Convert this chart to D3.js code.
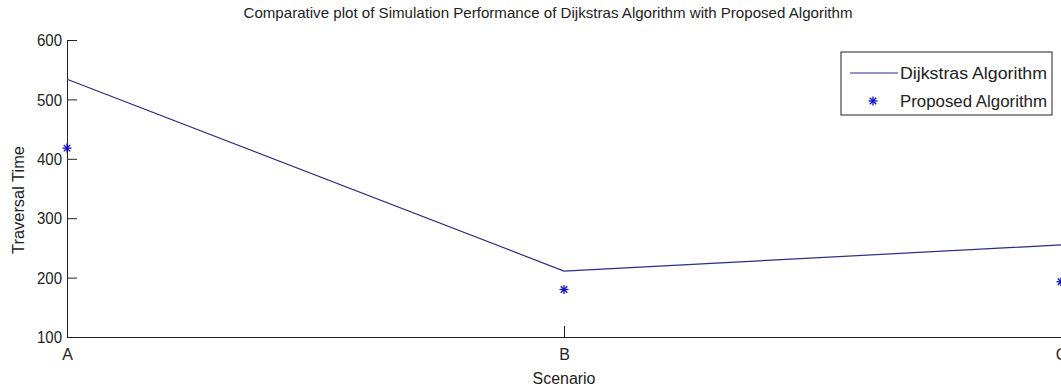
<!DOCTYPE html>
<html><head><meta charset="utf-8">
<script src="https://cdn.jsdelivr.net/npm/d3@7"></script>
<style>body{margin:0;background:#fff}svg{display:block}text{font-family:"Liberation Sans Narrow","Arial Narrow","Liberation Sans",Arial,sans-serif;fill:#222}</style>
</head><body>
<svg id="c" width="1061" height="389"></svg>
<script>
const categories = ["A", "B", "C"];
const dijkstra = [534, 211, 255];
const proposed = [418, 180, 193];
const yTicks = [100, 200, 300, 400, 500, 600];
const seriesNames = ["Dijkstras Algorithm", "Proposed Algorithm"];
const titleText = "Comparative plot of Simulation Performance of Dijkstras Algorithm with Proposed Algorithm";

const svg = d3.select("#c");
const x = d3.scalePoint().domain(categories).range([67, 1061]);
const y = d3.scaleLinear().domain([100, 600]).range([337, 40]);
const lineCol = "#2c2c85", starCol = "#0a0acc";

// axes
const yAxis = d3.axisLeft(y).tickValues(yTicks).tickSizeInner(-10).tickSizeOuter(0).tickPadding(5);
const gy = svg.append("g").attr("transform", "translate(67,0)").call(yAxis);
gy.select(".domain").attr("stroke", "#222");
gy.selectAll(".tick line").attr("stroke", "#222");
gy.selectAll(".tick text").attr("font-size", 16).attr("dy", "0.35em").attr("x", -5)
  .attr("textLength", 25).attr("lengthAdjust", "spacingAndGlyphs");

const xAxis = d3.axisBottom(x).tickSizeInner(-11).tickSizeOuter(0).tickPadding(8);
const gx = svg.append("g").attr("transform", "translate(0,337)").call(xAxis);
gx.select(".domain").attr("stroke", "#222");
gx.selectAll(".tick line").attr("stroke", "#222");
gx.selectAll(".tick text").attr("font-size", 16).attr("y", 12).attr("dy", "0.71em");

// line
const line = d3.line().x((d, i) => x(categories[i])).y(d => y(d));
svg.append("path").datum(dijkstra).attr("d", line).attr("fill", "none").attr("stroke", lineCol).attr("stroke-width", 1.2);

// star markers
function star(g, cx, cy, r) {
  const s = g.append("g").attr("transform", `translate(${cx},${cy})`).attr("stroke", starCol).attr("stroke-width", 1.3);
  s.append("line").attr("x1", -r).attr("x2", r).attr("y1", 0).attr("y2", 0);
  s.append("line").attr("x1", 0).attr("x2", 0).attr("y1", -r).attr("y2", r);
  const q = r * 0.72;
  s.append("line").attr("x1", -q).attr("x2", q).attr("y1", -q).attr("y2", q);
  s.append("line").attr("x1", -q).attr("x2", q).attr("y1", q).attr("y2", -q);
}
const pg = svg.append("g");
proposed.forEach((v, i) => star(pg, x(categories[i]), y(v), 4.5));

// title & labels
svg.append("text").attr("x", 548).attr("y", 18).attr("text-anchor", "middle").attr("font-size", 15)
  .attr("textLength", 609).attr("lengthAdjust", "spacingAndGlyphs").text(titleText);
svg.append("text").attr("x", 564).attr("y", 384).attr("text-anchor", "middle").attr("font-size", 16)
  .attr("textLength", 63).attr("lengthAdjust", "spacingAndGlyphs").text("Scenario");
svg.append("text").attr("transform", "translate(24,200) rotate(-90)").attr("text-anchor", "middle").attr("font-size", 16)
  .attr("textLength", 108).attr("lengthAdjust", "spacingAndGlyphs").text("Traversal Time");

// legend
const lg = svg.append("g");
lg.append("rect").attr("x", 841).attr("y", 52).attr("width", 211).attr("height", 63).attr("fill", "#fff").attr("stroke", "#222");
lg.append("line").attr("x1", 850).attr("x2", 898).attr("y1", 73).attr("y2", 73).attr("stroke", lineCol).attr("stroke-width", 1.2);
star(lg, 873, 101, 4.5);
lg.append("text").attr("x", 900).attr("y", 79).attr("font-size", 16).attr("textLength", 147).attr("lengthAdjust", "spacingAndGlyphs").text(seriesNames[0]);
lg.append("text").attr("x", 900).attr("y", 107).attr("font-size", 16).attr("textLength", 147).attr("lengthAdjust", "spacingAndGlyphs").text(seriesNames[1]);
</script>
</body></html>
